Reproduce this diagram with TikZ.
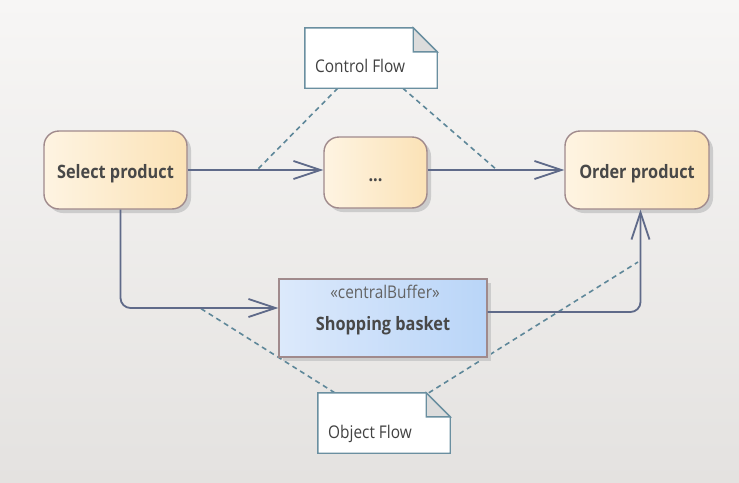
\documentclass[tikz,border=0pt]{standalone}
\usepackage{fontspec}
\setmainfont{Open Sans}[FakeStretch=0.88]
\usetikzlibrary{arrows.meta,calc,shadows}
\definecolor{bgT}{HTML}{F7F6F5}
\definecolor{bgB}{HTML}{E4E2E0}
\definecolor{actL}{HTML}{FEF4E2}
\definecolor{actR}{HTML}{FBE2B6}
\definecolor{actB}{HTML}{A08A8C}
\definecolor{bufL}{HTML}{DCE9FB}
\definecolor{bufR}{HTML}{B9D5F8}
\definecolor{edgec}{HTML}{5F6A89}
\definecolor{dashc}{HTML}{5E8799}
\definecolor{noteB}{HTML}{6A8FA0}
\definecolor{foldc}{HTML}{DCDCDC}
\definecolor{txt}{HTML}{484848}
\tikzset{
  actbox/.style={draw=actB, line width=1.4pt, rounded corners=15pt,
    left color=actL, right color=actR,
    general shadow={fill=black!20, shadow xshift=4pt, shadow yshift=-4pt},
    font=\bfseries\fontsize{18.5}{22}\selectfont, text=txt, anchor=center,
    text height=17pt, text depth=0pt},
  bufbox/.style={draw=actB, line width=1.4pt,
    left color=bufL, right color=bufR,
    general shadow={fill=black!20, shadow xshift=4pt, shadow yshift=-4pt},
    minimum width=208pt, minimum height=78pt, anchor=center},
  notebox/.style={draw=none, minimum width=132pt, minimum height=60pt, inner sep=0pt},
  noteline/.style={draw=noteB, line width=1.4pt, line join=miter},
  notetext/.style={font=\fontsize{17.5}{21}\selectfont, text=txt!90!black, inner sep=0pt, anchor=base west},
  flow/.style={draw=edgec, line width=1.8pt, rounded corners=10pt,
    -{Straight Barb[length=27pt,width=18pt,line width=1.8pt]}},
  dashln/.style={draw=dashc, line width=1.6pt, dash pattern=on 5pt off 4pt},
}
\begin{document}
\begin{tikzpicture}[x=1pt,y=-1pt]
\shade[top color=bgT, bottom color=bgB] (0,0) rectangle (739,482);
\useasboundingbox (0,0) rectangle (739,482);

% coordinates on the flows where the note links attach
\coordinate (m1) at (257,170);
\coordinate (m2) at (497,170);
\coordinate (m3) at (200,308);
\coordinate (m4) at (638,262);

% notes (placed first so lines can refer to them)
\node[notebox] (cf) at (371,58) {};
\node[notebox] (of) at (384,423) {};

\draw[dashln] ([xshift=33pt]cf.south west) -- (m1);
\draw[dashln] ([xshift=98pt]cf.south west) -- (m2);
\draw[dashln] ([xshift=17pt]of.north west) -- (m3);
\draw[dashln] ([xshift=111pt]of.north west) -- (m4);

% note outlines
\foreach \n in {cf,of}{
  \draw[noteline, fill=white] (\n.north west) -- ([xshift=-24pt]\n.north east)
     -- ([yshift=-24pt]\n.north east) -- (\n.south east) -- (\n.south west) -- cycle;
  \draw[noteline, fill=foldc] ([xshift=-24pt]\n.north east)
     -- ([xshift=-24pt,yshift=-24pt]\n.north east) -- ([yshift=-24pt]\n.north east) -- cycle;
}
\node[notetext] (cft) at (315,72) {Control Flow};
\node[notetext] (oft) at (328,438) {Object Flow};

% actions
\node[actbox, minimum width=143pt, minimum height=78pt] (sel) at (115.5,170) {Select product};
\node[actbox, minimum width=103pt, minimum height=71pt] (dots) at (375.5,172.5) {...};
\node[actbox, minimum width=144pt, minimum height=78pt] (ord) at (637,170) {Order product};

% central buffer
\node[bufbox] (bask) at (383,318) {};
\node[font=\fontsize{17.5}{21}\selectfont, text=txt!85, anchor=base, inner sep=0pt] (st) at (385,298) {«centralBuffer»};
\node[font=\bfseries\fontsize{18.5}{22}\selectfont, text=txt, anchor=base, inner sep=0pt] (bn) at (383,330) {Shopping basket};

% flows
\draw[flow] (sel.east) -- (sel.east -| dots.west);
\draw[flow] (dots.east |- ord.west) -- (ord.west);
\draw[flow] ([xshift=5pt]sel.south) |- ([yshift=10pt]bask.west);
\draw[flow] ([yshift=6pt]bask.east) -| ([xshift=3.5pt]ord.south);
\end{tikzpicture}
\end{document}
